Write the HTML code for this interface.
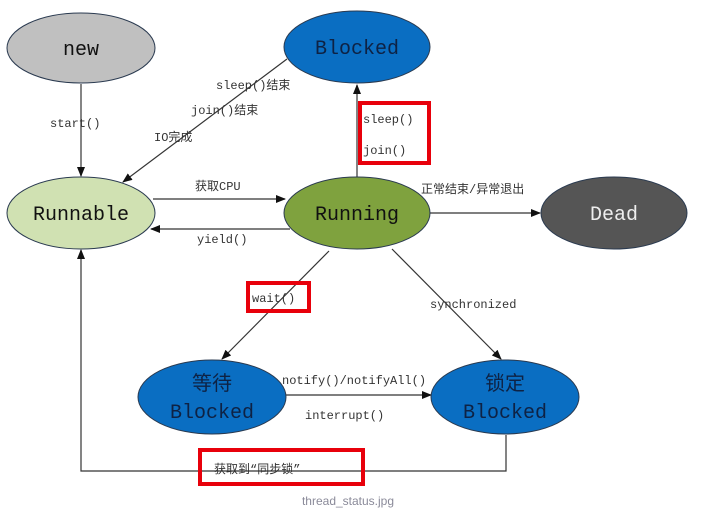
<!DOCTYPE html>
<html><head><meta charset="utf-8"><style>
html,body{margin:0;padding:0;background:#fff;width:703px;height:516px;overflow:hidden}
svg{display:block}
.m{font-family:"Liberation Mono","Noto Sans CJK SC",monospace;font-size:12px;fill:#333}
.b{font-family:"Liberation Mono","Noto Sans CJK SC",monospace;font-size:20px;text-anchor:middle}
</style></head><body>
<svg width="703" height="516" viewBox="0 0 703 516" xmlns="http://www.w3.org/2000/svg">
<defs><marker id="a" markerWidth="10" markerHeight="8" refX="9" refY="4" orient="auto" markerUnits="userSpaceOnUse"><path d="M0,0 L10,4 L0,8 z" fill="#111"/></marker></defs>
<g stroke="#333" stroke-width="1.2" fill="none">
<line x1="81" y1="84" x2="81" y2="176" marker-end="url(#a)"/>
<line x1="287" y1="59" x2="123" y2="182" marker-end="url(#a)"/>
<line x1="357" y1="177" x2="357" y2="85" marker-end="url(#a)"/>
<line x1="153" y1="199" x2="285" y2="199" marker-end="url(#a)"/>
<line x1="290" y1="229" x2="151" y2="229" marker-end="url(#a)"/>
<line x1="430" y1="213" x2="540" y2="213" marker-end="url(#a)"/>
<line x1="329" y1="251" x2="222" y2="359" marker-end="url(#a)"/>
<line x1="392" y1="249" x2="501" y2="359" marker-end="url(#a)"/>
<line x1="284" y1="395" x2="431" y2="395" marker-end="url(#a)"/>
<polyline points="506,435 506,471 81,471 81,250" marker-end="url(#a)"/>
</g>
<g stroke="#2a3a50" stroke-width="1">
<ellipse cx="81" cy="48" rx="74" ry="35" fill="#c0c0c0"/>
<ellipse cx="357" cy="47" rx="73" ry="36" fill="#0a6ec2"/>
<ellipse cx="81" cy="213" rx="74" ry="36" fill="#d0e1b2"/>
<ellipse cx="357" cy="213" rx="73" ry="36" fill="#7fa23e"/>
<ellipse cx="614" cy="213" rx="73" ry="36" fill="#555"/>
<ellipse cx="212" cy="397" rx="74" ry="37" fill="#0a6ec2"/>
<ellipse cx="505" cy="397" rx="74" ry="37" fill="#0a6ec2"/>
</g>
<text class="b" x="81" y="55" fill="#111">new</text>
<text class="b" x="357" y="54" fill="#0e2244">Blocked</text>
<text class="b" x="81" y="220" fill="#111">Runnable</text>
<text class="b" x="357" y="220" fill="#111">Running</text>
<text class="b" x="614" y="220" fill="#eee">Dead</text>
<text class="b" x="212" y="390" fill="#0e2244">等待</text>
<text class="b" x="212" y="418" fill="#0e2244">Blocked</text>
<text class="b" x="505" y="390" fill="#0e2244">锁定</text>
<text class="b" x="505" y="418" fill="#0e2244">Blocked</text>
<text class="m" x="50" y="127">start()</text>
<text class="m" x="216" y="89">sleep()结束</text>
<text class="m" x="191" y="114">join()结束</text>
<text class="m" x="154" y="141">IO完成</text>
<text class="m" x="195" y="190">获取CPU</text>
<text class="m" x="197" y="243">yield()</text>
<text class="m" x="363" y="123">sleep()</text>
<text class="m" x="363" y="154">join()</text>
<text class="m" x="421" y="193">正常结束/异常退出</text>
<text class="m" x="252" y="302">wait()</text>
<text class="m" x="430" y="308">synchronized</text>
<text class="m" x="282" y="384">notify()/notifyAll()</text>
<text class="m" x="305" y="419">interrupt()</text>
<text class="m" x="214" y="473">获取到“同步锁”</text>
<g stroke="#e8000b" stroke-width="4" fill="none">
<rect x="360" y="103" width="69" height="60"/>
<rect x="248" y="283" width="61" height="28"/>
<rect x="200" y="450" width="163" height="34"/>
</g>
<text x="348" y="505" text-anchor="middle" font-family="Liberation Sans,sans-serif" font-size="12" fill="#8a8a99">thread_status.jpg</text>
</svg>
</body></html>
